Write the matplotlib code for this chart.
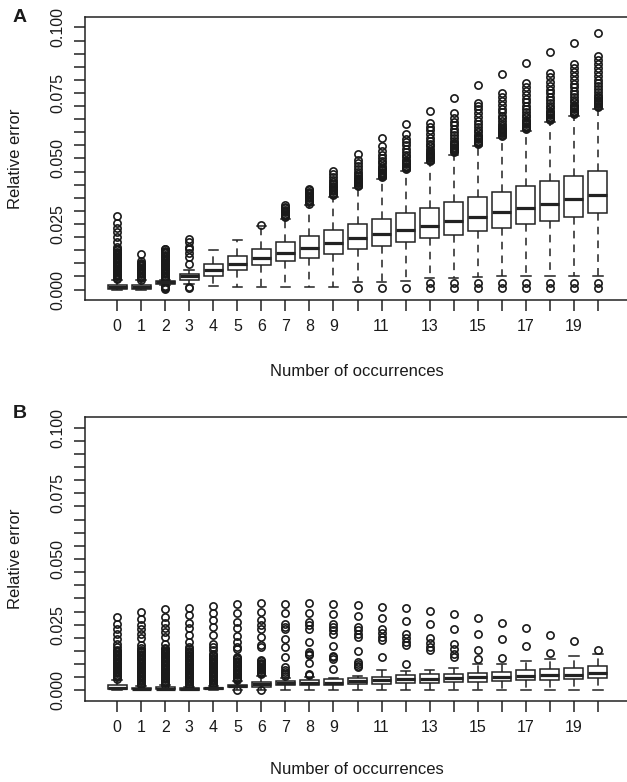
import matplotlib
matplotlib.use("Agg")
import matplotlib.pyplot as plt
import numpy as np

plt.rcParams['font.family'] = ['Liberation Sans', 'DejaVu Sans']

positions = list(range(21))
xtick_labels = ['0', '1', '2', '3', '4', '5', '6', '7', '8', '9', '', '11', '', '13', '', '15', '', '17', '', '19', '']
ytick_values = [0.000, 0.025, 0.050, 0.075, 0.100]
ytick_labels = ['0.000', '0.025', '0.050', '0.075', '0.100']

# ---------------- Panel A ----------------
A_whislo = [0.0000, 0.0000, 0.0016, 0.0020, 0.0012, 0.0008, 0.0010, 0.0010, 0.0010, 0.0010, 0.0028,
            0.0030, 0.0032, 0.0045, 0.0045, 0.0048, 0.0050, 0.0050, 0.0050, 0.0050, 0.0050]
A_q1 = [0.0002, 0.0002, 0.0022, 0.0038, 0.0053, 0.0076, 0.0092, 0.0107, 0.0121, 0.0137, 0.0153,
        0.0165, 0.0181, 0.0195, 0.0209, 0.0223, 0.0235, 0.0251, 0.0263, 0.0277, 0.0293]
A_med = [0.0008, 0.0008, 0.0027, 0.0050, 0.0075, 0.0099, 0.0121, 0.0138, 0.0159, 0.0176, 0.0195,
         0.0212, 0.0229, 0.0244, 0.0263, 0.0277, 0.0296, 0.0312, 0.0327, 0.0344, 0.0359]
A_q3 = [0.0018, 0.0018, 0.0031, 0.0061, 0.0097, 0.0127, 0.0155, 0.0181, 0.0204, 0.0229, 0.0249,
        0.0271, 0.0293, 0.0312, 0.0335, 0.0354, 0.0374, 0.0394, 0.0413, 0.0433, 0.0452]
A_whishi = [0.0038, 0.0035, 0.0036, 0.0073, 0.0151, 0.0188, 0.0243, 0.0270, 0.0322, 0.0354, 0.0388,
            0.0420, 0.0452, 0.0483, 0.0515, 0.0547, 0.0579, 0.0604, 0.0639, 0.0662, 0.0690]
A_fliers = [
    [0.0040, 0.0045, 0.0050, 0.0055, 0.0060, 0.0065, 0.0070, 0.0075, 0.0080, 0.0085, 0.0090, 0.0095,
     0.0100, 0.0105, 0.0110, 0.0115, 0.0120, 0.0125, 0.0130, 0.0135, 0.0140, 0.0145, 0.0150, 0.0155,
     0.0164, 0.0183, 0.0202, 0.0218, 0.0233, 0.0252, 0.0280],
    [0.0038, 0.0043, 0.0048, 0.0053, 0.0058, 0.0063, 0.0068, 0.0073, 0.0078, 0.0083, 0.0088, 0.0093,
     0.0098, 0.0103, 0.0107, 0.0137],
    [0.0002, 0.0006, 0.0010, 0.0014, 0.0038, 0.0043, 0.0048, 0.0053, 0.0058, 0.0063, 0.0068, 0.0073,
     0.0078, 0.0083, 0.0088, 0.0093, 0.0098, 0.0103, 0.0108, 0.0113, 0.0118, 0.0123, 0.0128, 0.0133,
     0.0138, 0.0143, 0.0148, 0.0153, 0.0156],
    [0.0004, 0.0008, 0.0099, 0.0126, 0.0141, 0.0153, 0.0164, 0.0180, 0.0194],
    [],
    [],
    [0.0248],
    [0.0275, 0.0280, 0.0285, 0.0290, 0.0295, 0.0300, 0.0305, 0.0310, 0.0315, 0.0321],
    [0.0328, 0.0333, 0.0338, 0.0343, 0.0348, 0.0353, 0.0358, 0.0363, 0.0368, 0.0374, 0.0380, 0.0385],
    [0.0360, 0.0365, 0.0370, 0.0375, 0.0380, 0.0385, 0.0390, 0.0396, 0.0402, 0.0410, 0.0418, 0.0430,
     0.0440, 0.0452],
    [0.0004, 0.0396, 0.0400, 0.0405, 0.0409, 0.0414, 0.0418, 0.0423, 0.0427, 0.0432, 0.0441, 0.0450,
     0.0460, 0.0470, 0.0482, 0.0496, 0.0518],
    [0.0004, 0.0428, 0.0432, 0.0437, 0.0441, 0.0446, 0.0450, 0.0455, 0.0459, 0.0464, 0.0473, 0.0482,
     0.0492, 0.0503, 0.0515, 0.0530, 0.0547, 0.0579],
    [0.0006, 0.0460, 0.0464, 0.0469, 0.0473, 0.0478, 0.0482, 0.0487, 0.0491, 0.0496, 0.0505, 0.0515,
     0.0526, 0.0538, 0.0550, 0.0562, 0.0576, 0.0592, 0.0630],
    [0.0006, 0.0025, 0.0491, 0.0495, 0.0500, 0.0504, 0.0509, 0.0513, 0.0518, 0.0522, 0.0527, 0.0536,
     0.0546, 0.0557, 0.0568, 0.0580, 0.0594, 0.0608, 0.0622, 0.0636, 0.0683],
    [0.0006, 0.0025, 0.0523, 0.0527, 0.0532, 0.0536, 0.0541, 0.0545, 0.0550, 0.0554, 0.0559, 0.0568,
     0.0578, 0.0589, 0.0600, 0.0612, 0.0626, 0.0640, 0.0656, 0.0674, 0.0732],
    [0.0006, 0.0025, 0.0555, 0.0559, 0.0564, 0.0568, 0.0573, 0.0577, 0.0582, 0.0586, 0.0591, 0.0600,
     0.0610, 0.0621, 0.0632, 0.0644, 0.0658, 0.0672, 0.0687, 0.0700, 0.0712, 0.0779],
    [0.0006, 0.0025, 0.0587, 0.0591, 0.0596, 0.0600, 0.0605, 0.0609, 0.0614, 0.0618, 0.0623, 0.0632,
     0.0642, 0.0653, 0.0664, 0.0676, 0.0690, 0.0704, 0.0719, 0.0735, 0.0751, 0.0824],
    [0.0006, 0.0025, 0.0612, 0.0616, 0.0621, 0.0625, 0.0630, 0.0634, 0.0639, 0.0643, 0.0648, 0.0657,
     0.0667, 0.0678, 0.0689, 0.0701, 0.0714, 0.0728, 0.0743, 0.0758, 0.0773, 0.0789, 0.0865],
    [0.0006, 0.0025, 0.0647, 0.0651, 0.0656, 0.0660, 0.0665, 0.0669, 0.0674, 0.0678, 0.0683, 0.0692,
     0.0702, 0.0713, 0.0724, 0.0736, 0.0749, 0.0763, 0.0778, 0.0793, 0.0810, 0.0827, 0.0906],
    [0.0006, 0.0025, 0.0670, 0.0674, 0.0679, 0.0683, 0.0688, 0.0692, 0.0697, 0.0701, 0.0706, 0.0715,
     0.0725, 0.0736, 0.0747, 0.0759, 0.0772, 0.0786, 0.0801, 0.0816, 0.0832, 0.0845, 0.0859, 0.0941],
    [0.0006, 0.0025, 0.0698, 0.0702, 0.0707, 0.0711, 0.0716, 0.0720, 0.0725, 0.0729, 0.0734, 0.0743,
     0.0753, 0.0764, 0.0775, 0.0787, 0.0800, 0.0814, 0.0829, 0.0844, 0.0860, 0.0876, 0.0891, 0.0980],
]

# ---------------- Panel B ----------------
B_whislo = [0.0000, 0.0000, 0.0000, 0.0000, 0.0000, 0.0003, 0.0003, 0.0000, 0.0000, 0.0000, 0.0000,
            0.0000, 0.0000, 0.0000, 0.0003, 0.0003, 0.0003, 0.0003, 0.0000, 0.0003, 0.0003]
B_q1 = [0.0006, 0.0004, 0.0004, 0.0002, 0.0006, 0.0013, 0.0015, 0.0019, 0.0019, 0.0022, 0.0023,
        0.0025, 0.0028, 0.0029, 0.0032, 0.0034, 0.0036, 0.0038, 0.0041, 0.0042, 0.0047]
B_med = [0.0010, 0.0007, 0.0007, 0.0005, 0.0008, 0.0017, 0.0024, 0.0027, 0.0030, 0.0030, 0.0035,
         0.0038, 0.0042, 0.0045, 0.0048, 0.0051, 0.0053, 0.0056, 0.0059, 0.0060, 0.0066]
B_q3 = [0.0021, 0.0010, 0.0012, 0.0008, 0.0011, 0.0022, 0.0032, 0.0036, 0.0041, 0.0042, 0.0047,
        0.0051, 0.0057, 0.0061, 0.0064, 0.0067, 0.0071, 0.0076, 0.0081, 0.0087, 0.0092]
B_whishi = [0.0038, 0.0018, 0.0020, 0.0014, 0.0018, 0.0035, 0.0055, 0.0047, 0.0051, 0.0048, 0.0055,
            0.0079, 0.0073, 0.0079, 0.0087, 0.0099, 0.0102, 0.0112, 0.0121, 0.0130, 0.0140]
B_fliers = [
    [0.0045, 0.0050, 0.0055, 0.0060, 0.0065, 0.0070, 0.0075, 0.0080, 0.0085, 0.0090, 0.0095, 0.0100,
     0.0105, 0.0110, 0.0115, 0.0120, 0.0125, 0.0130, 0.0135, 0.0140, 0.0145, 0.0150, 0.0155,
     0.0165, 0.0178, 0.0197, 0.0216, 0.0235, 0.0254, 0.0280],
    [0.0020, 0.0025, 0.0030, 0.0035, 0.0040, 0.0045, 0.0050, 0.0055, 0.0060, 0.0065, 0.0070, 0.0075,
     0.0080, 0.0085, 0.0090, 0.0095, 0.0100, 0.0105, 0.0110, 0.0115, 0.0120, 0.0125, 0.0130, 0.0135,
     0.0140, 0.0145, 0.0150, 0.0155, 0.0160, 0.0172, 0.0201, 0.0216, 0.0232, 0.0248, 0.0271, 0.0299],
    [0.0022, 0.0027, 0.0032, 0.0037, 0.0042, 0.0047, 0.0052, 0.0057, 0.0062, 0.0067, 0.0072, 0.0077,
     0.0082, 0.0087, 0.0092, 0.0097, 0.0102, 0.0107, 0.0112, 0.0117, 0.0122, 0.0127, 0.0132, 0.0137,
     0.0142, 0.0147, 0.0152, 0.0157, 0.0162, 0.0178, 0.0204, 0.0223, 0.0239, 0.0257, 0.0280, 0.0308],
    [0.0016, 0.0021, 0.0026, 0.0031, 0.0036, 0.0041, 0.0046, 0.0051, 0.0056, 0.0061, 0.0066, 0.0071,
     0.0076, 0.0081, 0.0086, 0.0091, 0.0096, 0.0101, 0.0106, 0.0111, 0.0116, 0.0121, 0.0126, 0.0131,
     0.0136, 0.0141, 0.0146, 0.0151, 0.0156, 0.0165, 0.0184, 0.0210, 0.0239, 0.0258, 0.0286, 0.0314],
    [0.0020, 0.0025, 0.0030, 0.0035, 0.0040, 0.0045, 0.0050, 0.0055, 0.0060, 0.0065, 0.0070, 0.0075,
     0.0080, 0.0085, 0.0090, 0.0095, 0.0100, 0.0105, 0.0110, 0.0115, 0.0120, 0.0125, 0.0130, 0.0135,
     0.0140, 0.0155, 0.0165, 0.0178, 0.0210, 0.0242, 0.0267, 0.0293, 0.0322],
    [0.0000, 0.0038, 0.0043, 0.0048, 0.0053, 0.0058, 0.0063, 0.0068, 0.0073, 0.0078, 0.0083, 0.0088,
     0.0093, 0.0098, 0.0103, 0.0108, 0.0113, 0.0118, 0.0123, 0.0127, 0.0159, 0.0165, 0.0184, 0.0207,
     0.0239, 0.0261, 0.0293, 0.0327],
    [0.0000, 0.0062, 0.0066, 0.0071, 0.0076, 0.0081, 0.0086, 0.0091, 0.0096, 0.0101, 0.0106, 0.0111,
     0.0115, 0.0165, 0.0172, 0.0204, 0.0232, 0.0248, 0.0267, 0.0299, 0.0331],
    [0.0055, 0.0064, 0.0070, 0.0076, 0.0089, 0.0127, 0.0165, 0.0197, 0.0235, 0.0242, 0.0254, 0.0293, 0.0328],
    [0.0058, 0.0064, 0.0104, 0.0134, 0.0140, 0.0146, 0.0184, 0.0235, 0.0248, 0.0261, 0.0293, 0.0331],
    [0.0081, 0.0121, 0.0126, 0.0130, 0.0169, 0.0216, 0.0229, 0.0242, 0.0254, 0.0289, 0.0328],
    [0.0089, 0.0095, 0.0102, 0.0108, 0.0150, 0.0204, 0.0216, 0.0229, 0.0242, 0.0282, 0.0324],
    [0.0127, 0.0191, 0.0204, 0.0218, 0.0235, 0.0274, 0.0318],
    [0.0099, 0.0172, 0.0185, 0.0198, 0.0216, 0.0265, 0.0312],
    [0.0153, 0.0166, 0.0182, 0.0201, 0.0251, 0.0303],
    [0.0127, 0.0140, 0.0158, 0.0178, 0.0235, 0.0289],
    [0.0121, 0.0153, 0.0216, 0.0276],
    [0.0125, 0.0195, 0.0258],
    [0.0169, 0.0238],
    [0.0142, 0.0212],
    [0.0187],
    [0.0155],
]

EDGE = '#222222'


def make_stats(wlo, q1, med, q3, whi, fl):
    return [dict(whislo=a, q1=b, med=c, q3=d, whishi=e, fliers=f)
            for a, b, c, d, e, f in zip(wlo, q1, med, q3, whi, fl)]


def draw_panel(ax, stats):
    ax.bxp(stats, positions=positions, widths=0.8, capwidths=0.4,
           patch_artist=True, showfliers=True,
           boxprops=dict(facecolor='white', edgecolor=EDGE, linewidth=1.1),
           medianprops=dict(color=EDGE, linewidth=2.3, solid_capstyle='butt'),
           whiskerprops=dict(color=EDGE, linewidth=1.1, linestyle=(0, (5, 4))),
           capprops=dict(color=EDGE, linewidth=1.1),
           flierprops=dict(marker='o', markersize=5.2, markerfacecolor='none',
                           markeredgecolor='#1a1a1a', markeredgewidth=1.2, linestyle='none'))
    ax.set_xlim(-1.34, 21.34)
    ax.set_ylim(-0.004, 0.104)
    ax.set_xticks(positions)
    ax.set_xticklabels(xtick_labels)
    yt = np.round(np.arange(0, 0.1001, 0.005), 3)
    ax.set_yticks(yt)
    ax.set_yticklabels([ytick_labels[ytick_values.index(v)] if v in ytick_values else '' for v in yt],
                       rotation=90, va='center')
    ax.tick_params(axis='both', direction='out', length=8, width=1.1, color=EDGE,
                   labelsize=11.5, labelcolor='#1a1a1a')
    ax.tick_params(axis='x', pad=6)
    ax.tick_params(axis='y', pad=6)
    for s in ['left', 'bottom', 'top']:
        ax.spines[s].set_color(EDGE)
        ax.spines[s].set_linewidth(1.1)
    ax.spines['right'].set_visible(False)


fig = plt.figure(figsize=(6.27, 7.82), dpi=100)
W, H = 627.0, 782.0
axA = fig.add_axes([85 / W, 1 - 300 / H, 545 / W, 283 / H])
axB = fig.add_axes([85 / W, 1 - 701 / H, 545 / W, 284 / H])

draw_panel(axA, make_stats(A_whislo, A_q1, A_med, A_q3, A_whishi, A_fliers))
draw_panel(axB, make_stats(B_whislo, B_q1, B_med, B_q3, B_whishi, B_fliers))

for ycen, lab_y, panel_y, letter in [((17 + 300) / 2, 371, 17, 'A'), ((417 + 701) / 2, 770, 413, 'B')]:
    fig.text(16 / W, 1 - ycen / H, 'Relative error', rotation=90, ha='center', va='center',
             fontsize=12, color='#1a1a1a')
    fig.text(357 / W, 1 - lab_y / H, 'Number of occurrences', ha='center', va='center',
             fontsize=12, color='#1a1a1a')
    fig.text(20 / W, 1 - panel_y / H, letter, ha='center', va='center', fontsize=14,
             fontweight='bold', color='#1a1a1a')

fig.savefig('out.png', dpi=100)
